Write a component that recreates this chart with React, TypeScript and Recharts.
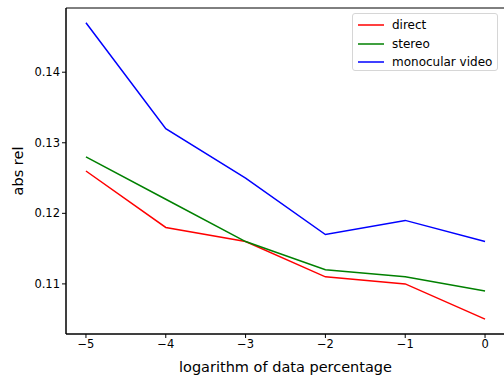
import { LineChart, Line, XAxis, YAxis, ReferenceArea } from "recharts";

const xValues = [-5, -4, -3, -2, -1, 0];
const direct = [0.126, 0.118, 0.116, 0.111, 0.11, 0.105];
const stereo = [0.128, 0.122, 0.116, 0.112, 0.111, 0.109];
const monocular = [0.147, 0.132, 0.125, 0.117, 0.119, 0.116];
const xTicks = [-5, -4, -3, -2, -1, 0];
const yTicks = [0.11, 0.12, 0.13, 0.14];

const seriesInfo = [
  { key: "direct", name: "direct", color: "#ff0000" },
  { key: "stereo", name: "stereo", color: "#008000" },
  { key: "mono", name: "monocular video", color: "#0000ff" },
];

const data = xValues.map((x, i) => ({
  x,
  direct: direct[i],
  stereo: stereo[i],
  mono: monocular[i],
}));

const FONT = "DejaVu Sans, sans-serif";

// matplotlib-style legend box, drawn on top of the chart
const LegendBox = () => (
  <div
    style={{
      position: "absolute",
      top: 13,
      left: 352,
      width: 146,
      height: 58,
      boxSizing: "border-box",
      border: "1px solid #d6d6d6",
      borderRadius: 3,
      background: "rgba(255,255,255,0.8)",
      padding: "2px 0 0 5px",
      fontFamily: FONT,
      fontSize: 12,
      color: "#000",
    }}
  >
    {seriesInfo.map((s) => (
      <div key={s.key} style={{ display: "flex", alignItems: "center", height: 18.5 }}>
        <svg width={26} height={4} style={{ marginRight: 8 }}>
          <line x1={0} y1={2} x2={26} y2={2} stroke={s.color} strokeWidth={1.5} />
        </svg>
        <span>{s.name}</span>
      </div>
    ))}
  </div>
);

export default function App() {
  return (
    <div style={{ position: "absolute", left: 0, top: 0, width: 504, height: 375, background: "#fff", overflow: "hidden" }}>
      <LineChart width={504} height={375} data={data} margin={{ top: 8, right: -1, left: 0, bottom: 0 }}>
        <ReferenceArea
          x1={-5.25}
          x2={0.25}
          y1={0.1029}
          y2={0.1491}
          fill="none"
          stroke="#000"
          strokeWidth={1}
          ifOverflow="extendDomain"
        />
        <XAxis
          dataKey="x"
          type="number"
          domain={[-5.25, 0.25]}
          ticks={xTicks}
          allowDataOverflow
          height={41}
          stroke="#000"
          tickSize={4}
          tick={{ fontSize: 11.5, fill: "#000", fontFamily: FONT }}
          tickFormatter={(v: number) => String(v).replace("-", "\u2212")}
          label={{ value: "logarithm of data percentage", position: "insideBottom", offset: 3, fontSize: 14.5, fill: "#000", fontFamily: FONT }}
        />
        <YAxis
          type="number"
          domain={[0.1029, 0.1491]}
          ticks={yTicks}
          allowDataOverflow
          width={66}
          stroke="#000"
          tickSize={4}
          tick={{ fontSize: 11.5, fill: "#000", fontFamily: FONT }}
          tickFormatter={(v: number) => v.toFixed(2)}
          label={{ value: "abs rel", angle: -90, position: "insideLeft", offset: 18, fontSize: 14.5, fill: "#000", fontFamily: FONT, style: { textAnchor: "middle" } }}
        />
        {seriesInfo.map((s) => (
          <Line
            key={s.key}
            dataKey={s.key}
            name={s.name}
            stroke={s.color}
            strokeWidth={1.5}
            dot={false}
            type="linear"
            isAnimationActive={false}
          />
        ))}
      </LineChart>
      <LegendBox />
    </div>
  );
}
